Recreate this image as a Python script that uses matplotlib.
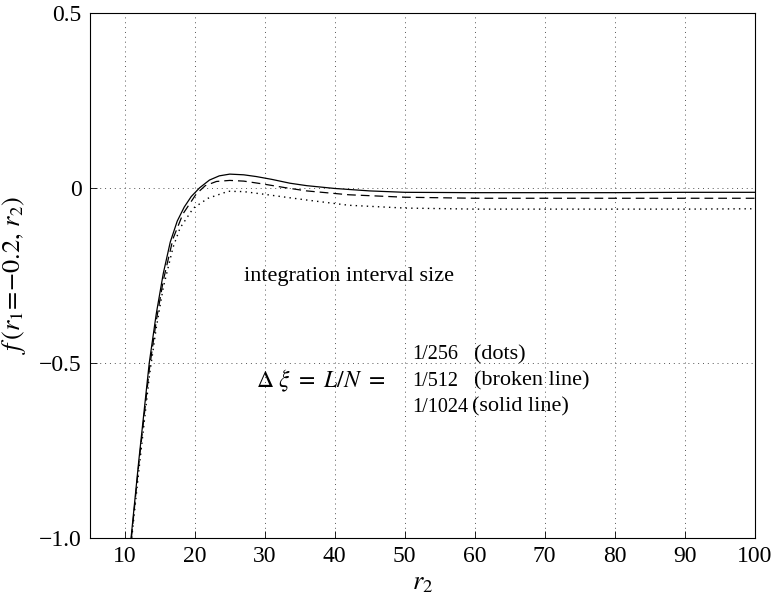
import numpy as np
import matplotlib
matplotlib.use('Agg')
import matplotlib.pyplot as plt

plt.rcParams['font.family'] = ['Liberation Serif', 'DejaVu Serif']
plt.rcParams['mathtext.fontset'] = 'stix'

# values
r2_solid = [10.9, 12.0, 13.5, 14.5, 15.5, 16.5, 17.5, 18.5, 19.5, 20.7, 22.1, 23.5, 25.0,
            27.0, 28.8, 31.0, 33.6, 36.0, 40.0, 45.0, 50.0, 60.0, 70.0, 80.0, 90.0, 100.0]
f_solid = [-1.0, -0.78, -0.50, -0.36, -0.245, -0.155, -0.095, -0.055, -0.025, 0.0, 0.022, 0.034, 0.039,
           0.037, 0.032, 0.024, 0.013, 0.006, -0.002, -0.009, -0.013, -0.014, -0.014, -0.014, -0.013, -0.013]

r2_dash = [10.95, 12.0, 13.5, 14.5, 15.5, 16.9, 18.3, 20.2, 21.5, 23.1, 25.0, 27.0, 29.7,
           33.0, 36.0, 42.0, 50.0, 60.0, 70.0, 80.0, 90.0, 100.0]
f_dash = [-1.0, -0.79, -0.52, -0.38, -0.265, -0.145, -0.075, -0.018, 0.006, 0.018, 0.021, 0.019, 0.011,
          0.0, -0.009, -0.02, -0.027, -0.03, -0.03, -0.03, -0.03, -0.03]

r2_dots = [11.0, 12.0, 13.5, 14.5, 15.5, 16.9, 17.9, 19.8, 21.9, 24.8, 27.0, 29.7,
           33.0, 36.0, 42.0, 50.0, 60.0, 70.0, 80.0, 90.0, 100.0]
f_dots = [-1.0, -0.81, -0.54, -0.40, -0.285, -0.17, -0.115, -0.058, -0.03, -0.01, -0.011, -0.018,
          -0.027, -0.035, -0.05, -0.058, -0.061, -0.061, -0.061, -0.061, -0.06]

xticks = [10, 20, 30, 40, 50, 60, 70, 80, 90, 100]
yticks = [-1.0, -0.5, 0, 0.5]
ytick_labels = ['\u22121.0', '\u22120.5', '0', '0.5']

fig = plt.figure(figsize=(7.74, 6.07), dpi=100)
ax = fig.add_axes([0.116, 0.114, 0.859, 0.865])

ax.plot(r2_solid, f_solid, color='black', lw=0.9, ls='-')
ax.plot(r2_dash, f_dash, color='black', lw=0.9, ls=(0, (7, 4)))
ax.plot(r2_dots, f_dots, color='black', lw=1.0, ls=(0, (1, 3)))

ax.set_xlim(5, 100)
ax.set_ylim(-1.0, 0.5)
ax.set_xticks(xticks)
ax.set_xticklabels([str(t) for t in xticks])
ax.set_yticks(yticks)
ax.set_yticklabels(ytick_labels)
ax.tick_params(direction='in', length=5, width=0.6, labelsize=17, pad=6)
ax.grid(True, color='#555555', ls=(0, (1, 4)), lw=0.7)
for s in ax.spines.values():
    s.set_linewidth(0.8)

ax.set_xlabel(r'$r_2$', fontsize=19, labelpad=4)
ax.set_ylabel(r'$f\,(r_1\!=\!{-}0.2,\,r_2)$', fontsize=19, labelpad=8)

fs = 16
nfs = 14.5
ax.text(27.1, -0.254, 'integration interval size', fontsize=fs, va='center', ha='left')
ax.text(28.8, -0.552, r'$\Delta\ \xi\ =\ L/N\ =$', fontsize=fs + 1, va='center', ha='left')
ax.text(51.0, -0.477, '1/256', fontsize=nfs, va='center', ha='left')
ax.text(59.9, -0.477, '(dots)', fontsize=fs, va='center', ha='left')
ax.text(51.0, -0.553, '1/512', fontsize=nfs, va='center', ha='left')
ax.text(59.9, -0.553, '(broken line)', fontsize=fs, va='center', ha='left')
ax.text(51.0, -0.627, '1/1024', fontsize=nfs, va='center', ha='left')
ax.text(59.6, -0.627, '(solid line)', fontsize=fs, va='center', ha='left')

fig.savefig('out.png', dpi=100)
